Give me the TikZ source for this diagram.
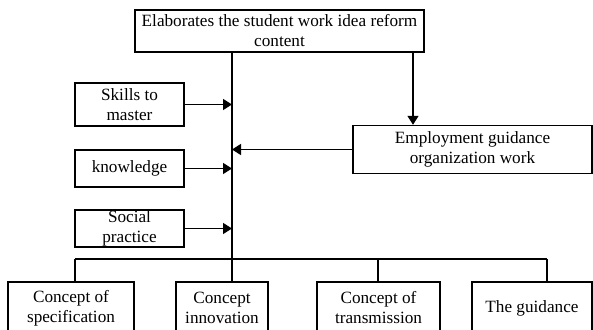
\documentclass[tikz,border=0pt]{standalone}
\usepackage{fontspec}
\setmainfont{Liberation Serif}
\usetikzlibrary{arrows.meta,calc}
\begin{document}
\begin{tikzpicture}[x=1pt,y=-1pt,
  box/.style={draw,line width=1.4pt,inner sep=0pt,align=center,
    font=\fontsize{17.2}{20}\selectfont},
  link/.style={line width=1.4pt},
  arr/.style={line width=1.4pt,-{Triangle[length=9pt,width=11pt]}}]
\useasboundingbox (0,0) rectangle (593,329);
\clip (0,0) rectangle (593,329);
\node[box,minimum width=289pt,minimum height=42pt] (top) at (279.5,31) {Elaborates the student work idea reform\\content};
\node[box,minimum width=109pt,minimum height=43pt] (skills) at (129.5,104.5) {Skills to\\master};
\node[box,minimum width=109pt,minimum height=37pt] (know) at (129.5,168.5) {knowledge};
\node[box,minimum width=109pt,minimum height=37pt] (social) at (129.5,228.5) {Social\\practice};
\node[box,minimum width=239pt,minimum height=48pt] (emp) at (472.5,149.5) {Employment guidance\\organization work};
\node[box,minimum width=126pt,minimum height=52pt] (b1) at (71,308) {Concept of\\specification};
\node[box,minimum width=92pt,minimum height=52pt] (b2) at (222,308) {Concept\\innovation};
\node[box,minimum width=123pt,minimum height=52pt] (b3) at (378.5,308) {Concept of\\transmission};
\node[box,minimum width=120pt,minimum height=52pt] (b4) at (532,308) {The guidance};
\coordinate (tx) at (232,0);
\coordinate (ex) at (413,0);
\coordinate (d1) at (75,259);
\coordinate (d3) at (378,259);
\coordinate (d4) at (547,259);
\draw[link] (top.south -| tx) -- (tx |- b2.north);
\draw[arr] (top.south -| ex) -- (ex |- emp.north);
\draw[arr] (skills.east) -- (skills.east -| tx);
\draw[arr] (know.east) -- (know.east -| tx);
\draw[arr] (social.east) -- (social.east -| tx);
\draw[arr] (emp.west) -- (emp.west -| tx);
\draw[link] (d1) -- (d4);
\draw[link] (d1) -- (d1 |- b1.north);
\draw[link] (d3) -- (d3 |- b3.north);
\draw[link] (d4) -- (d4 |- b4.north);
\end{tikzpicture}
\end{document}
